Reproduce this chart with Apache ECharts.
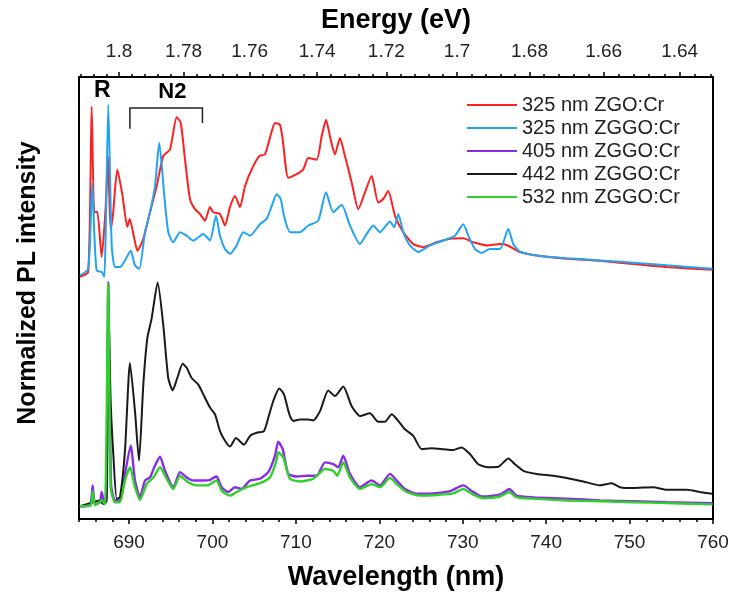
<!DOCTYPE html>
<html>
<head>
<meta charset="utf-8">
<script src="https://cdn.jsdelivr.net/npm/echarts@6/dist/echarts.min.js"></script>
<style>
html, body { margin: 0; padding: 0; background: #fff; }
#chart { width: 734px; height: 596px; }
</style>
</head>
<body>
<div id="chart"></div>
<script>
// wavelength (nm) / normalized intensity (offset, a.u.)
const redWl = [684.1,685.11,685.52,685.83,686.19,686.72,687.18,687.48,687.78,688.08,688.59,689.19,689.79,690.08,690.59,691.01,691.71,692.51,693.31,694.10,694.91,695.71,696.19,696.71,697.30,697.90,698.50,699.10,699.70,700.10,700.90,701.50,702.10,702.70,703.30,703.90,704.70,705.61,706.29,707.10,707.49,708.09,708.42,709.09,710.09,710.88,711.48,712.49,713.09,713.61,714.17,714.68,715.28,715.88,716.69,717.48,718.28,719.08,719.87,720.47,721.07,721.88,722.87,724.07,725.27,726.87,728.47,730.06,731.26,732.87,734.46,735.26,736.86,739.26,742.46,746.45,750.44,754.44,759.95];
const redInt = [54.8,55.9,93.3,69.4,69.5,59.3,70.0,82.0,65.6,69.0,79.1,73.5,66.1,67.9,63.8,60.7,63.4,69.4,75.3,82.1,83.6,90.9,89.7,81.3,72.4,70.1,69.0,67.5,70.6,69.4,69.0,66.4,70.6,73.1,70.6,75.3,79.1,82.1,82.5,87.7,89.6,89.2,85.8,77.2,78.0,79.1,81.7,81.3,86.6,90.3,85.8,82.5,86.2,82.1,76.1,70.1,73.9,77.6,71.6,72.4,74.2,68.6,64.9,62.2,61.5,62.6,63.4,63.5,62.6,61.9,62.2,62.0,60.4,59.5,58.9,58.4,57.7,57.0,56.4];

const blueWl = [684.1,685.11,685.59,685.83,686.12,686.72,687.03,687.51,687.92,688.31,688.91,689.51,690.20,690.71,691.23,691.91,692.51,693.11,693.62,694.19,694.70,695.30,696.11,696.91,697.70,698.90,699.70,700.42,700.90,701.50,702.10,702.90,703.69,704.50,705.69,706.50,707.10,707.70,708.18,708.57,709.29,710.49,711.48,712.68,713.61,714.48,715.49,716.48,717.68,718.49,719.28,720.08,721.28,721.79,722.27,722.87,723.67,724.67,726.07,727.67,729.07,730.06,730.66,731.46,732.27,733.26,734.46,735.46,736.06,736.86,739.26,742.46,746.45,750.44,754.44,759.95];
const blueInt = [55.1,56.6,76.1,64.9,56.2,55.9,54.8,93.7,61.9,57.0,57.0,58.5,60.7,57.4,56.6,64.9,69.4,75.3,85.1,73.9,64.9,62.6,64.9,64.1,63.0,64.5,63.0,68.6,64.1,61.1,60.0,61.9,64.9,64.1,66.7,67.9,70.8,73.5,72.4,68.6,64.9,64.9,66.4,67.5,73.9,69.4,71.1,66.4,62.2,64.5,66.4,64.9,67.3,66.0,69.0,64.9,61.9,60.4,61.9,63.0,64.1,66.7,64.1,61.1,60.2,61.1,61.1,65.6,62.2,60.5,59.5,59.0,58.5,58.0,57.4,56.6];

const purpleWl = [684.1,685.32,685.64,685.92,686.52,686.72,687.00,687.30,687.51,687.84,688.31,688.91,689.51,690.20,690.71,691.31,691.91,692.51,693.11,693.71,694.31,695.30,696.11,696.91,697.70,698.90,699.70,700.10,700.50,701.10,701.90,702.70,703.50,704.50,705.69,706.69,707.49,707.89,708.42,709.09,710.09,711.48,712.49,713.49,714.48,715.08,715.68,716.48,717.68,719.08,720.08,721.28,722.08,723.07,724.47,726.46,728.47,730.06,731.26,732.27,733.66,734.66,735.58,736.46,738.45,742.46,746.45,750.44,754.44,759.95];
const purpleInt = [2.9,3.1,7.6,3.3,3.8,6.1,4.2,4.2,53.6,7.9,4.2,4.2,10.2,16.6,8.7,4.9,8.7,9.4,12.1,14.1,10.9,7.2,10.6,9.4,8.7,8.7,8.8,9.3,9.6,7.2,6.1,7.2,6.8,8.7,9.1,10.6,14.3,17.5,15.8,10.2,9.6,9.8,9.8,12.8,12.4,11.7,14.3,10.2,7.2,8.7,7.6,10.2,8.7,6.8,5.7,5.8,6.3,7.6,6.1,5.1,5.3,5.7,6.8,5.3,4.9,4.6,4.2,4.0,3.8,3.6];

const blackWl = [684.1,685.71,686.52,686.91,687.30,687.51,687.78,688.11,688.52,688.91,689.51,690.11,690.71,691.19,691.71,692.19,692.71,693.43,694.10,694.70,695.23,695.78,696.43,696.91,697.51,698.30,698.90,699.70,700.30,700.90,701.50,702.10,702.82,703.78,704.50,705.30,706.17,706.69,707.29,708.01,708.57,709.21,709.69,710.49,711.48,712.08,712.89,713.88,714.68,715.68,716.69,717.68,718.88,719.87,720.68,721.48,722.27,723.07,724.07,725.08,726.27,727.67,728.86,729.87,730.86,731.86,733.06,734.26,735.46,736.26,737.26,738.86,740.85,742.46,744.45,746.45,747.85,748.85,750.44,752.84,754.44,756.84,758.43,759.95];
const blackInt = [2.9,3.8,4.2,3.4,4.0,50.0,27.4,14.7,4.6,4.9,15.4,35.3,24.4,13.2,30.4,40.9,45.4,53.5,43.9,31.9,29.1,31.9,35.1,34.2,31.9,30.4,28.2,25.2,23.7,19.9,17.7,16.4,18.3,16.8,18.8,19.5,19.9,22.9,26.7,29.5,28.2,23.7,22.2,22.5,22.5,22.3,24.4,29.1,27.8,30.0,25.5,23.3,23.9,22.0,22.0,23.7,22.2,20.3,18.8,15.8,16.0,15.8,15.6,16.2,14.7,12.4,11.7,11.8,13.7,12.4,10.9,10.2,9.8,9.3,8.5,7.6,8.1,7.2,7.0,7.2,6.6,6.6,6.1,5.7];

const greenWl = [684.1,685.40,685.64,685.92,686.72,687.12,687.51,687.80,688.31,688.91,689.51,690.11,690.71,691.31,692.11,692.91,693.71,694.51,695.30,696.11,697.10,698.11,699.31,700.50,701.10,702.10,702.90,704.10,705.69,706.89,707.61,707.89,708.49,709.29,710.49,712.08,713.49,714.48,714.96,715.68,716.48,717.68,719.08,720.08,721.28,722.08,723.28,724.87,727.27,728.86,730.06,731.26,732.46,734.46,735.58,736.46,738.45,742.46,746.45,750.44,754.44,759.95];
const greenInt = [2.9,3.1,6.3,3.1,4.2,3.3,53.3,7.2,3.8,3.8,8.7,11.7,7.2,4.3,7.9,9.4,11.7,9.1,6.8,9.8,8.3,7.6,7.6,8.7,6.4,5.3,6.1,7.2,8.1,9.4,12.8,15.1,13.9,9.1,8.5,9.1,11.3,10.9,9.8,12.8,9.4,6.8,7.9,7.2,9.3,7.9,6.1,5.3,5.5,5.8,6.8,5.5,4.7,5.1,6.1,4.9,4.6,4.2,4.0,3.8,3.6,3.3];

const seriesNames = ['325 nm ZGO:Cr', '325 nm ZGGO:Cr', '405 nm ZGGO:Cr', '442 nm ZGGO:Cr', '532 nm ZGGO:Cr'];
const seriesColors = ['#ff1f1f', '#1fa3f2', '#8a2be8', '#1a1a1a', '#2fd02a'];

const wlTicks = [690, 700, 710, 720, 730, 740, 750, 760];
const energyTicks = [1.8, 1.78, 1.76, 1.74, 1.72, 1.7, 1.68, 1.66, 1.64];

const HC = 1239.84; // eV nm
const WL_MIN = 684, WL_MAX = 760;

// minor ticks: every 2 nm below, every 0.004 eV on top
const wlMinor = [];
for (let w = WL_MIN; w <= WL_MAX; w += 2) if (w % 10 !== 0) wlMinor.push(w);
const energyMinor = [];
for (let k = 453; k >= 408; k--) {
    const e = k * 0.004;
    if (Math.abs(e * 50 - Math.round(e * 50)) > 1e-6) energyMinor.push(HC / e);
}
const energyMajorWl = energyTicks.map(e => HC / e);

const font = 'Liberation Sans, Arial, sans-serif';
const chart = echarts.init(document.getElementById('chart'));

function pairs(wl, it) {
    return wl.map((x, i) => [x, it[i]]);
}

const seriesData = [
    pairs(redWl, redInt),
    pairs(blueWl, blueInt),
    pairs(purpleWl, purpleInt),
    pairs(blackWl, blackInt),
    pairs(greenWl, greenInt)
];

function hiddenAxis(extra) {
    return Object.assign({
        type: 'value', gridIndex: 0, min: WL_MIN, max: WL_MAX,
        axisLine: { show: false }, axisLabel: { show: false },
        splitLine: { show: false }, minorTick: { show: false }
    }, extra);
}

const option = {
    animation: false,
    backgroundColor: '#fff',
    textStyle: { fontFamily: font },
    grid: { left: 79, right: 21, top: 77, bottom: 74 },
    legend: {
        orient: 'vertical',
        left: 462, top: 90,
        itemWidth: 50, itemHeight: 2, itemGap: 3,
        icon: 'rect',
        textStyle: { fontSize: 20, color: '#222', lineHeight: 20, fontFamily: font },
        data: seriesNames
    },
    xAxis: [
        {
            type: 'value', position: 'bottom', min: WL_MIN, max: WL_MAX,
            name: 'Wavelength (nm)', nameLocation: 'middle', nameGap: 45,
            nameTextStyle: { fontSize: 27, fontWeight: 'bold', color: '#000', fontFamily: font },
            axisLine: { show: true, lineStyle: { color: '#000', width: 2 } },
            axisTick: { show: true, customValues: wlTicks, length: 5, lineStyle: { color: '#000', width: 1.5 } },
            axisLabel: { customValues: wlTicks, fontSize: 19, color: '#222', margin: 14, fontFamily: font },
            splitLine: { show: false }
        },
        hiddenAxis({
            position: 'bottom',
            axisTick: { show: true, customValues: wlMinor, length: 3, lineStyle: { color: '#000', width: 1.5 } }
        }),
        {
            type: 'value', position: 'top', min: WL_MIN, max: WL_MAX,
            name: 'Energy (eV)', nameLocation: 'middle', nameGap: 43,
            nameTextStyle: { fontSize: 27, fontWeight: 'bold', color: '#000', fontFamily: font },
            axisLine: { show: true, lineStyle: { color: '#000', width: 2 } },
            axisTick: { show: true, customValues: energyMajorWl, length: 5, lineStyle: { color: '#000', width: 1.5 } },
            axisLabel: {
                customValues: energyMajorWl, fontSize: 19, color: '#222', margin: 16, fontFamily: font,
                formatter: v => String(Number((HC / v).toFixed(2)))
            },
            splitLine: { show: false }
        },
        hiddenAxis({
            position: 'top',
            axisTick: { show: true, customValues: energyMinor, length: 3, lineStyle: { color: '#000', width: 1.5 } }
        })
    ],
    yAxis: [
        {
            type: 'value', min: 0, max: 100, position: 'left',
            name: 'Normalized PL intensity', nameLocation: 'middle', nameGap: 38,
            nameTextStyle: { fontSize: 25, fontWeight: 'bold', color: '#000', fontFamily: font, padding: [0, 0, 0, 30] },
            axisLine: { show: true, lineStyle: { color: '#000', width: 2 } },
            axisTick: { show: false }, axisLabel: { show: false }, splitLine: { show: false }
        },
        {
            type: 'value', min: 0, max: 100, position: 'right',
            axisLine: { show: true, lineStyle: { color: '#000', width: 2 } },
            axisTick: { show: false }, axisLabel: { show: false }, splitLine: { show: false }
        }
    ],
    series: seriesNames.map((name, i) => ({
        name: name,
        type: 'line',
        xAxisIndex: 0,
        yAxisIndex: 0,
        showSymbol: false,
        smooth: 0.2,
        color: seriesColors[i],
        lineStyle: { width: i === 2 || i === 4 ? 2.4 : 2, color: seriesColors[i] },
        data: seriesData[i]
    }))
};

chart.setOption(option);

// "R" and "N2" annotations, placed in data coordinates
const rLabel = [686.8, 96.9];
const n2Label = [695.2, 96.7];
const bracket = { x0: 690.1, x1: 698.8, top: 93.0, leftEnd: 88.3, rightEnd: 89.6 };

const px = p => chart.convertToPixel({ seriesIndex: 0 }, p);
const rPos = px(rLabel), n2Pos = px(n2Label);
const bTL = px([bracket.x0, bracket.top]), bTR = px([bracket.x1, bracket.top]);
const bL = px([bracket.x0, bracket.leftEnd]), bR = px([bracket.x1, bracket.rightEnd]);

chart.setOption({
    graphic: [
        {
            type: 'text', x: rPos[0], y: rPos[1],
            style: { text: 'R', font: 'bold 23px ' + font, fill: '#000', align: 'center', verticalAlign: 'middle' }
        },
        {
            type: 'text', x: n2Pos[0], y: n2Pos[1],
            style: { text: 'N2', font: 'bold 22px ' + font, fill: '#000', align: 'center', verticalAlign: 'middle' }
        },
        {
            type: 'polyline',
            shape: { points: [bL, bTL, bTR, bR] },
            style: { stroke: '#222', lineWidth: 1.5, fill: null }
        }
    ]
});
</script>
</body>
</html>
